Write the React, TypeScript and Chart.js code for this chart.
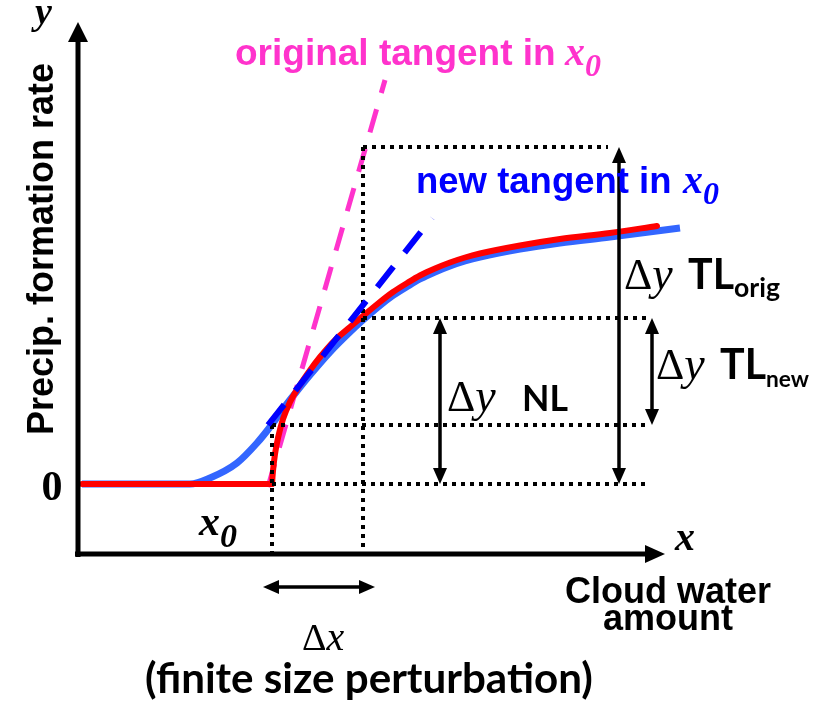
import React, { useEffect, useRef } from "react";
import { Chart, registerables } from "chart.js";

Chart.register(...registerables);

// ---------- data (arbitrary units: x = cloud water amount, y = precip. formation rate)
const X0 = 1.94; // x0
const X1 = 2.85; // x0 + Δx
const Y_NEW = 0.59; // Δy TL_new level
const Y_NL = 1.66; // Δy NL level
const Y_ORIG = 3.37; // Δy TL_orig level

// nonlinear (red) curve: flat part and rising part
const nlFlatX = [0.04, X0];
const nlFlatY = [0, 0];
const nlRiseX = [1.94, 1.95, 1.97, 2.0, 2.05, 2.12, 2.2, 2.3, 2.42, 2.57, 2.72, 2.85, 3.0, 3.15, 3.3, 3.42, 3.57, 3.72, 3.87, 4.02, 4.42, 4.82, 5.32, 5.79];
const nlRiseY = [0, 0.13, 0.3, 0.46, 0.65, 0.82, 0.96, 1.11, 1.27, 1.44, 1.57, 1.68, 1.805, 1.92, 2.015, 2.085, 2.155, 2.215, 2.265, 2.305, 2.385, 2.45, 2.51, 2.58];

// smoothed (blue) curve
const smoothX = [0.04, 1.12, 1.32, 1.59, 1.79, 1.92, 2.05, 2.19, 2.32, 2.52, 2.72, 2.85, 3.0, 3.15, 3.3, 3.42, 3.57, 3.72, 3.87, 4.02, 4.42, 4.82, 5.32, 6.02];
const smoothY = [0, 0, 0.06, 0.21, 0.41, 0.57, 0.75, 0.93, 1.09, 1.32, 1.52, 1.64, 1.77, 1.885, 1.98, 2.05, 2.12, 2.18, 2.23, 2.27, 2.35, 2.41, 2.47, 2.56];

// tangents in x0
const origTanX = [1.9, 3.07];
const origTanY = [-0.03, 4.04];
const newTanX = [1.9, 3.54];
const newTanY = [0.59, 2.66];

// dotted guide lines
const hGuideY = [Y_ORIG, Y_NL, Y_NEW, 0];
const hGuideFrom = [X1, X1, X0, X0];
const hGuideTo = [5.3, 5.72, 5.72, 5.72];
const vGuideX = [X0, X1];
const vGuideTop = [Y_NEW, Y_ORIG];
const vGuideBottom = [-0.69, -0.69];

// double arrows (Δy NL, Δy TL_orig, Δy TL_new) and Δx
const vArrowX = [3.62, 5.41, 5.74];
const vArrowLow = [0, 0, Y_NEW];
const vArrowHigh = [Y_NL, Y_ORIG, Y_NL];
const dxArrowY = -1.03;
const dxArrowFrom = 1.85;
const dxArrowTo = 2.97;

// axes
const axisXLevel = -0.7;
const axisXFrom = -0.03;
const axisXTo = 5.87;
const axisYFrom = -0.73;
const axisYTo = 4.62;

// ---------- styles
const RED = "#ff0000";
const LIGHTBLUE = "#3366ff";
const PINK = "#ff33cc";
const BLUE = "#0000ff";
const SANS = "'Liberation Sans', Arial, sans-serif";
const SERIF = "'Liberation Serif', 'Times New Roman', serif";
const COMIC = "'Comic Sans MS', Lato, sans-serif";

function pts(xs: number[], ys: number[]) {
  return xs.map((x, i) => ({ x, y: ys[i] }));
}

function drawArrow(
  ctx: CanvasRenderingContext2D,
  x1: number, y1: number, x2: number, y2: number,
  lw: number, hl: number, hw: number, atStart: boolean, atEnd: boolean
) {
  const ang = Math.atan2(y2 - y1, x2 - x1);
  const ux = Math.cos(ang), uy = Math.sin(ang);
  let sx = x1, sy = y1, ex = x2, ey = y2;
  if (atStart) { sx += ux * hl * 0.8; sy += uy * hl * 0.8; }
  if (atEnd) { ex -= ux * hl * 0.8; ey -= uy * hl * 0.8; }
  ctx.save();
  ctx.strokeStyle = "#000";
  ctx.fillStyle = "#000";
  ctx.lineWidth = lw;
  ctx.lineCap = "butt";
  ctx.setLineDash([]);
  ctx.beginPath();
  ctx.moveTo(sx, sy);
  ctx.lineTo(ex, ey);
  ctx.stroke();
  const head = (tx: number, ty: number, dx: number, dy: number) => {
    ctx.beginPath();
    ctx.moveTo(tx, ty);
    ctx.lineTo(tx - dx * hl - dy * hw, ty - dy * hl + dx * hw);
    ctx.lineTo(tx - dx * hl + dy * hw, ty - dy * hl - dx * hw);
    ctx.closePath();
    ctx.fill();
  };
  if (atEnd) head(x2, y2, ux, uy);
  if (atStart) head(x1, y1, -ux, -uy);
  ctx.restore();
}

type Seg = { t: string; f: string; c?: string; x?: number; dy?: number };

function rich(ctx: CanvasRenderingContext2D, x: number, y: number, segs: Seg[]) {
  let cx = x;
  for (const s of segs) {
    if (s.x !== undefined) cx = s.x;
    ctx.font = s.f;
    ctx.fillStyle = s.c || "#000";
    ctx.textAlign = "left";
    ctx.textBaseline = "alphabetic";
    ctx.fillText(s.t, cx, y + (s.dy || 0));
    cx += ctx.measureText(s.t).width;
  }
}

function fit(ctx: CanvasRenderingContext2D, text: string, style: string, family: string, width: number) {
  ctx.font = `${style} 100px ${family}`;
  const w = ctx.measureText(text).width;
  return `${style} ${(100 * width) / w}px ${family}`;
}

const annotPlugin = {
  id: "annot",
  afterDatasetsDraw(chart: any) {
    const ctx: CanvasRenderingContext2D = chart.ctx;
    const X = (v: number) => chart.scales.x.getPixelForValue(v);
    const Y = (v: number) => chart.scales.y.getPixelForValue(v);

    // axes
    drawArrow(ctx, X(axisXFrom), Y(axisXLevel), X(axisXTo), Y(axisXLevel), 5, 20, 9, false, true);
    drawArrow(ctx, X(0), Y(axisYFrom), X(0), Y(axisYTo), 5, 20, 10, false, true);

    // double arrows
    vArrowX.forEach((vx, i) => {
      drawArrow(ctx, X(vx), Y(vArrowLow[i]), X(vx), Y(vArrowHigh[i]), 3.5, 16, 7, true, true);
    });
    drawArrow(ctx, X(dxArrowFrom), Y(dxArrowY), X(dxArrowTo), Y(dxArrowY), 3.5, 16, 7, true, true);

    ctx.save();
    // y label
    rich(ctx, 35, 24, [{ t: "y", f: `italic bold 38px ${SERIF}` }]);
    // rotated axis title
    ctx.save();
    ctx.translate(53, 249);
    ctx.rotate(-Math.PI / 2);
    ctx.font = `bold 36px ${SANS}`;
    ctx.fillStyle = "#000";
    ctx.textAlign = "center";
    ctx.textBaseline = "alphabetic";
    ctx.fillText("Precip. formation rate", 0, 0);
    ctx.restore();

    // "0"
    ctx.font = `bold 42px ${SERIF}`;
    ctx.textAlign = "center";
    ctx.fillStyle = "#000";
    ctx.fillText("0", 52, 500);

    // x0 on axis
    rich(ctx, 199, 535, [
      { t: "x", f: `italic bold 42px ${SERIF}` },
      { t: "0", f: `italic bold 34px ${SERIF}`, dy: 12 },
    ]);
    // x axis label
    rich(ctx, 675, 550, [{ t: "x", f: `italic bold 40px ${SERIF}` }]);

    // Cloud water amount
    ctx.font = `bold 36px ${SANS}`;
    ctx.textAlign = "center";
    ctx.fillStyle = "#000";
    ctx.fillText("Cloud water", 668, 603);
    ctx.fillText("amount", 668, 630);

    // Δx
    rich(ctx, 302, 650, [
      { t: "Δ", f: `38px ${SERIF}` },
      { t: "x", f: `italic 40px ${SERIF}` },
    ]);
    // (finite size perturbation)
    ctx.font = fit(ctx, "(finite size perturbation)", "bold", COMIC, 448);
    ctx.textAlign = "left";
    ctx.fillText("(finite size perturbation)", 145, 693);

    // tangent labels
    rich(ctx, 235, 65, [
      { t: "original tangent in ", f: `bold 37px ${SANS}`, c: PINK },
      { t: "x", f: `italic bold 40px ${SERIF}`, c: PINK, x: 565 },
      { t: "0", f: `italic bold 32px ${SERIF}`, c: PINK, dy: 11 },
    ]);
    rich(ctx, 416, 193, [
      { t: "new tangent in ", f: `bold 36.5px ${SANS}`, c: BLUE },
      { t: "x", f: `italic bold 40px ${SERIF}`, c: BLUE, x: 683 },
      { t: "0", f: `italic bold 32px ${SERIF}`, c: BLUE, dy: 11 },
    ]);

    // Δy labels
    const dFont = `44px ${SERIF}`;
    const yFont = `italic 46px ${SERIF}`;
    rich(ctx, 624, 289, [
      { t: "Δ", f: dFont },
      { t: "y", f: yFont },
      { t: "TL", f: fit(ctx, "TL", "bold", COMIC, 46), x: 688 },
      { t: "orig", f: fit(ctx, "orig", "bold", COMIC, 46), dy: 8 },
    ]);
    rich(ctx, 656, 379, [
      { t: "Δ", f: dFont },
      { t: "y", f: yFont },
      { t: "TL", f: fit(ctx, "TL", "bold", COMIC, 46), x: 720 },
      { t: "new", f: fit(ctx, "new", "bold", COMIC, 43), dy: 8 },
    ]);
    rich(ctx, 447, 411, [
      { t: "Δ", f: dFont },
      { t: "y", f: yFont },
      { t: "NL", f: fit(ctx, "NL", "bold", COMIC, 46), x: 522 },
    ]);
    ctx.restore();
  },
};

export default function App() {
  const ref = useRef<HTMLCanvasElement | null>(null);
  useEffect(() => {
    if (!ref.current) return;
    const dotted = { borderColor: "#000", borderWidth: 4, borderDash: [4, 5], borderCapStyle: "butt", order: 3 };
    const datasets: any[] = [];
    hGuideY.forEach((gy, i) => {
      datasets.push({ data: pts([hGuideFrom[i], hGuideTo[i]], [gy, gy]), ...dotted });
    });
    vGuideX.forEach((gx, i) => {
      datasets.push({ data: pts([gx, gx], [vGuideTop[i], vGuideBottom[i]]), ...dotted });
    });
    datasets.push({
      data: pts(smoothX, smoothY), borderColor: LIGHTBLUE, borderWidth: 7,
      cubicInterpolationMode: "monotone", borderCapStyle: "butt", order: 6,
    });
    datasets.push({
      data: pts(origTanX, origTanY), borderColor: PINK, borderWidth: 5,
      borderDash: [24, 17], order: 5,
    });
    datasets.push({
      data: pts(nlFlatX, nlFlatY), borderColor: RED, borderWidth: 6, borderCapStyle: "round", order: 4,
    });
    datasets.push({
      data: pts(nlRiseX, nlRiseY), borderColor: RED, borderWidth: 6,
      cubicInterpolationMode: "monotone", borderCapStyle: "round", order: 4,
    });
    datasets.push({
      data: pts(newTanX, newTanY), borderColor: BLUE, borderWidth: 6,
      borderDash: [26, 18], order: 2,
    });
    datasets.forEach((d) => {
      d.showLine = true;
      d.pointRadius = 0;
      d.fill = false;
      d.clip = false;
    });

    const chart = new Chart(ref.current, {
      type: "scatter",
      data: { datasets },
      options: {
        animation: false,
        responsive: false,
        maintainAspectRatio: false,
        layout: { padding: 0 },
        events: [],
        plugins: { legend: { display: false }, tooltip: { enabled: false } },
        scales: {
          x: { type: "linear", display: false, min: -0.78, max: 7.39 },
          y: { type: "linear", display: false, min: -2.23, max: 4.84 },
        },
      },
      plugins: [annotPlugin],
    } as any);
    return () => chart.destroy();
  }, []);

  return (
    <div style={{ position: "fixed", left: 0, top: 0, width: 817, height: 707, background: "#fff" }}>
      <canvas ref={ref} width={817} height={707} style={{ display: "block" }} />
    </div>
  );
}
